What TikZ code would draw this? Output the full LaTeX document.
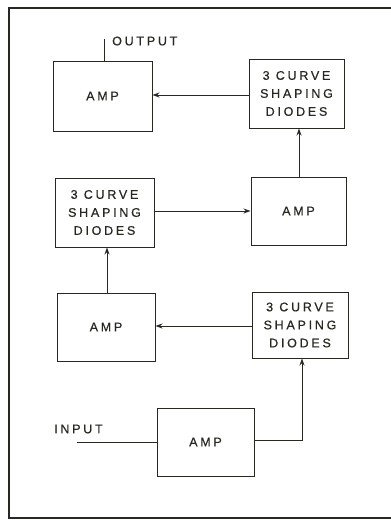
\documentclass[tikz,border=0pt]{standalone}
\usepackage{fontspec}
\newfontfamily\lab[LetterSpace=22,FakeBold=0.6]{Liberation Sans}
\usetikzlibrary{arrows.meta}
\definecolor{ink}{RGB}{40,40,34}
\begin{document}
\begin{tikzpicture}[x=1pt,y=-1pt,
  blk/.style={draw=ink,line width=1pt,inner sep=0pt,font=\lab\fontsize{12.5}{18}\selectfont,text=ink,align=center},
  conn/.style={draw=ink,line width=0.9pt},
  arr/.style={conn,-{Stealth[length=7pt,width=5pt]}},
  lbl/.style={font=\lab\fontsize{12.5}{14}\selectfont,text=ink,inner sep=0pt}]
\useasboundingbox (0,0) rectangle (391,520);
\draw[ink,line width=1.5pt] (400,8) -- (9,8) -- (9,518) -- (400,518);
% boxes
\node[blk,minimum width=99pt,minimum height=70pt] (amp1) at (102.5,96) {AMP};
\node[blk,minimum width=95pt,minimum height=69pt] (dio1) at (296.5,93.5) {3 CURVE\\SHAPING\\DIODES};
\node[blk,minimum width=99pt,minimum height=69pt] (dio2) at (104.5,212.5) {3 CURVE\\SHAPING\\DIODES};
\node[blk,minimum width=95pt,minimum height=68pt] (amp2) at (298.5,211) {AMP};
\node[blk,minimum width=98pt,minimum height=68pt] (amp3) at (106,327) {AMP};
\node[blk,minimum width=96pt,minimum height=66pt] (dio3) at (300,325) {3 CURVE\\SHAPING\\DIODES};
\node[blk,minimum width=97pt,minimum height=68pt] (amp4) at (205.5,442) {AMP};
% labels
\node[lbl,anchor=west] (out) at (112,41) {OUTPUT};
\node[lbl,anchor=west] (in) at (54,429) {INPUT};
\coordinate (outend) at (104,39);
\coordinate (inend) at (77,442);
% connectors
\draw[conn] (amp1.north -| outend) -- (outend);
\draw[arr] (dio1.west |- 0,95) -- (amp1.east |- 0,95);
\draw[arr] (amp2.north -| 299,0) -- (dio1.south -| 299,0);
\draw[arr] (dio2.east |- 0,211) -- (amp2.west |- 0,211);
\draw[arr] (amp3.north -| 107,0) -- (dio2.south -| 107,0);
\draw[arr] (dio3.west |- 0,326) -- (amp3.east |- 0,326);
\draw[arr] (amp4.east |- 0,440) -- (302,440) -- (dio3.south -| 302,0);
\draw[conn] (inend) -- (amp4.west |- inend);
\end{tikzpicture}
\end{document}
